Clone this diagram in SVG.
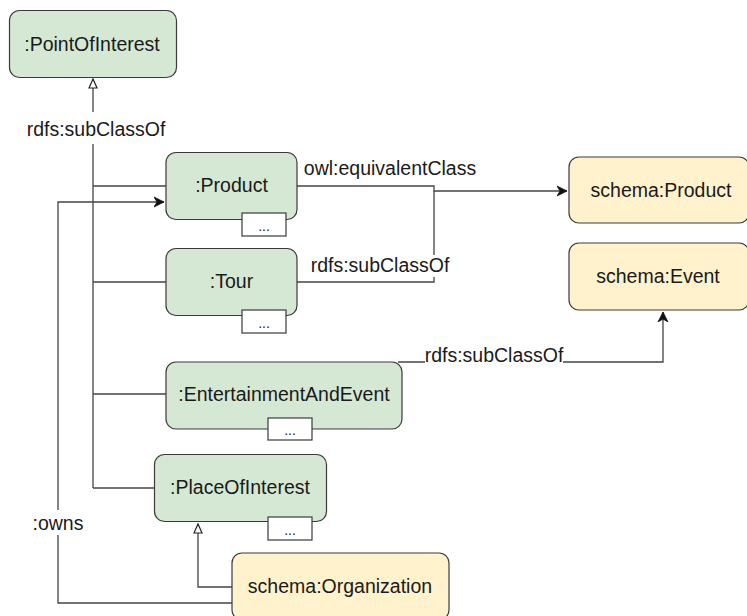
<svg xmlns="http://www.w3.org/2000/svg" width="747" height="616" viewBox="0 0 747 616">
  <style>
    .cls { fill: #d5e8d4; stroke: #3a3a3a; stroke-width: 1.2; }
    .ext { fill: #fff2cc; stroke: #3a3a3a; stroke-width: 1.2; }
    .more { fill: #ffffff; stroke: #3a3a3a; stroke-width: 1.2; }
    .t { font-family: "Liberation Sans", Arial, sans-serif; font-size: 19.5px; fill: #1a1a1a; text-anchor: middle; }
    .dots { font-family: "Liberation Sans", Arial, sans-serif; font-size: 14px; fill: #1a1a1a; text-anchor: middle; }
    .edge { fill: none; stroke: #444; stroke-width: 1.3; }
    .lbl { font-family: "Liberation Sans", Arial, sans-serif; font-size: 19.5px; fill: #1a1a1a; text-anchor: middle; }
    .bg { fill: #ffffff; }
  </style>
  <defs>
    <marker id="open" markerWidth="12" markerHeight="12" refX="10" refY="5" orient="auto" markerUnits="userSpaceOnUse" viewBox="0 0 12 10">
      <path d="M1,1 L10,5 L1,9 Z" fill="#ffffff" stroke="#222" stroke-width="1.2"/>
    </marker>
    <marker id="fill" markerWidth="12" markerHeight="12" refX="10" refY="5" orient="auto" markerUnits="userSpaceOnUse" viewBox="0 0 12 10">
      <path d="M0,0 L10,5 L0,10 L3,5 Z" fill="#111" stroke="#111" stroke-width="0.8"/>
    </marker>
  </defs>

  <!-- connectors -->
  <g id="connectors">
    <!-- subclass tree into :PointOfInterest -->
    <path class="edge" d="M93,488 L93,79" marker-end="url(#open)"/>
    <path class="edge" d="M166,186 L93,186"/>
    <path class="edge" d="M166,282 L93,282"/>
    <path class="edge" d="M166,394 L93,394"/>
    <path class="edge" d="M154,488 L93,488"/>
    <rect class="bg" x="22" y="112" width="150" height="32"/>
    <text class="lbl" x="96" y="136">rdfs:subClassOf</text>

    <!-- :Product / :Tour to schema:Product -->
    <path class="edge" d="M297,186 L434,186 L434,191 L567,191" marker-end="url(#fill)"/>
    <path class="edge" d="M297,282 L434,282 L434,191"/>
    <text class="lbl" x="390" y="175">owl:equivalentClass</text>
    <rect class="bg" x="309" y="255" width="143" height="22"/>
    <text class="lbl" x="380" y="272">rdfs:subClassOf</text>

    <!-- :EntertainmentAndEvent to schema:Event -->
    <path class="edge" d="M398,362 L663,362 L663,312" marker-end="url(#fill)"/>
    <rect class="bg" x="425" y="346" width="138" height="20"/>
    <text class="lbl" x="494" y="362">rdfs:subClassOf</text>

    <!-- schema:Organization to :PlaceOfInterest -->
    <path class="edge" d="M232,587 L198,587 L198,524" marker-end="url(#open)"/>

    <!-- :owns -->
    <path class="edge" d="M232,603 L58,603 L58,202 L164,202" marker-end="url(#fill)"/>
    <rect class="bg" x="32" y="510" width="54" height="25"/>
    <text class="lbl" x="58" y="530">:owns</text>
  </g>

  <g id="PointOfInterest">
    <rect class="cls" x="9.5" y="10.5" width="167" height="67" rx="10"/>
    <text class="t" x="92" y="51">:PointOfInterest</text>
  </g>

  <g id="Product">
    <rect class="cls" x="166" y="152.5" width="131" height="67" rx="10"/>
    <text class="t" x="231.5" y="192">:Product</text>
    <rect class="more" x="242" y="213" width="44" height="23"/>
    <text class="dots" x="264" y="231">...</text>
  </g>

  <g id="Tour">
    <rect class="cls" x="166" y="248.5" width="131" height="67" rx="10"/>
    <text class="t" x="231.5" y="288">:Tour</text>
    <rect class="more" x="242" y="310" width="44" height="23"/>
    <text class="dots" x="264" y="328">...</text>
  </g>

  <g id="EntertainmentAndEvent">
    <rect class="cls" x="166" y="362" width="236" height="67" rx="10"/>
    <text class="t" x="284" y="401">:EntertainmentAndEvent</text>
    <rect class="more" x="268" y="418" width="44" height="22"/>
    <text class="dots" x="290" y="435">...</text>
  </g>

  <g id="PlaceOfInterest">
    <rect class="cls" x="154.5" y="454.5" width="172" height="67" rx="10"/>
    <text class="t" x="240" y="494">:PlaceOfInterest</text>
    <rect class="more" x="268" y="517" width="44" height="23"/>
    <text class="dots" x="290" y="535">...</text>
  </g>

  <g id="schemaProduct">
    <rect class="ext" x="569" y="157" width="180" height="66" rx="10"/>
    <text class="t" x="661" y="197">schema:Product</text>
  </g>

  <g id="schemaEvent">
    <rect class="ext" x="569" y="243" width="180" height="67" rx="10"/>
    <text class="t" x="658" y="283">schema:Event</text>
  </g>

  <g id="schemaOrganization">
    <rect class="ext" x="232" y="553" width="217" height="67" rx="10"/>
    <text class="t" x="340" y="593">schema:Organization</text>
  </g>
</svg>
